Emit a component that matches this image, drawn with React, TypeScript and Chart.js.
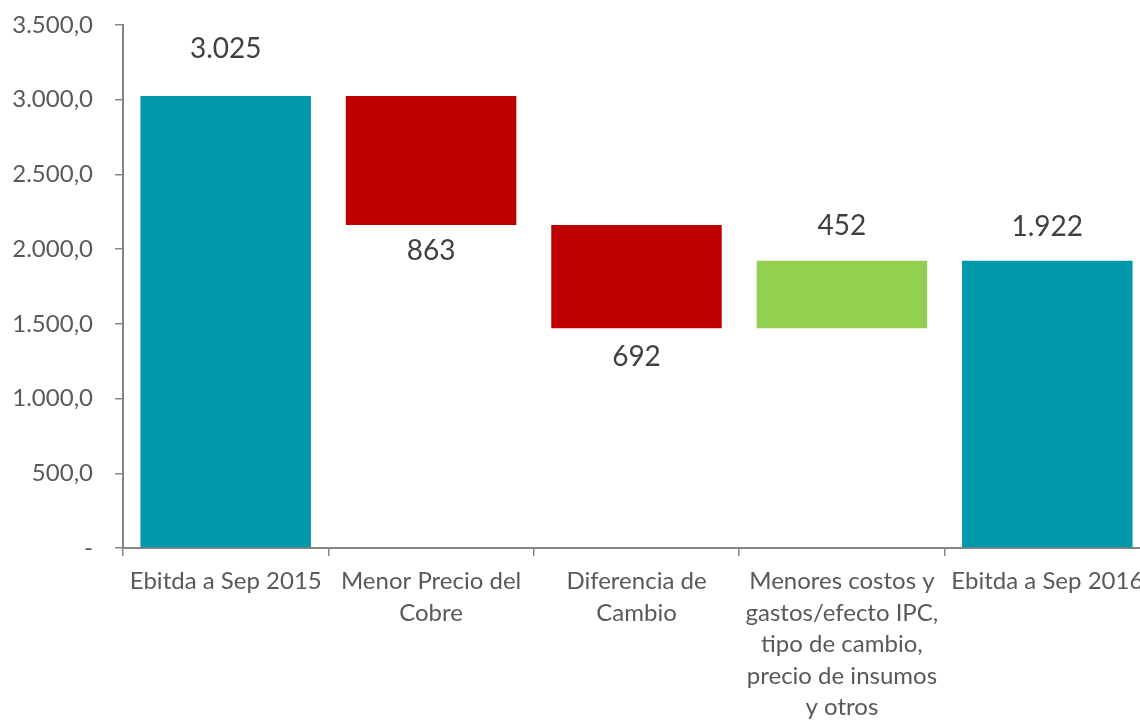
import React, { useEffect, useRef } from "react";
import { Chart, registerables } from "chart.js";

Chart.register(...registerables);

const categories: string[][] = [
  ["Ebitda a Sep 2015"],
  ["Menor Precio del", "Cobre"],
  ["Diferencia de", "Cambio"],
  ["Menores costos y", "gastos/efecto IPC,", "tipo de cambio,", "precio de insumos", "y otros"],
  ["Ebitda a Sep 2016"],
];
const changes: number[] = [3025, -863, -692, 452, 1922];
const kinds: string[] = ["total", "delta", "delta", "delta", "total"];
const yTicks: number[] = [0, 500, 1000, 1500, 2000, 2500, 3000, 3500];

const TEAL = "#0298AB";
const RED = "#C00000";
const GREEN = "#92D050";
const FONT = "Lato, 'Open Sans', sans-serif";

function fmtThousands(v: number): string {
  return Math.round(v).toString().replace(/\B(?=(\d{3})+(?!\d))/g, ".");
}
function fmtAxis(v: number): string {
  if (v === 0) return "-";
  return fmtThousands(v) + ",0";
}

export default function App() {
  const ref = useRef<HTMLCanvasElement | null>(null);
  useEffect(() => {
    if (!ref.current) return;
    let running = 0;
    const ranges: [number, number][] = [];
    const colors: string[] = [];
    changes.forEach((c, i) => {
      if (kinds[i] === "total") {
        ranges.push([0, c]);
        running = c;
        colors.push(TEAL);
      } else {
        const next = running + c;
        ranges.push([running, next]);
        colors.push(c < 0 ? RED : GREEN);
        running = next;
      }
    });
    const labelOffsets = [47, 26, 29, 35, 34];

    const labelPlugin = {
      id: "wfLabels",
      afterDatasetsDraw(chart: any) {
        const ctx = chart.ctx;
        const meta = chart.getDatasetMeta(0);
        ctx.save();
        ctx.font = `28px ${FONT}`;
        ctx.fillStyle = "#404040";
        ctx.textAlign = "center";
        ctx.textBaseline = "middle";
        meta.data.forEach((bar: any, i: number) => {
          const top = Math.min(bar.y, bar.base);
          const bottom = Math.max(bar.y, bar.base);
          const txt = fmtThousands(Math.abs(changes[i]));
          const y = changes[i] < 0 ? bottom + labelOffsets[i] : top - labelOffsets[i];
          ctx.fillText(txt, bar.x, y);
        });
        ctx.restore();
      },
    };

    const chart = new Chart(ref.current, {
      type: "bar",
      data: {
        labels: categories,
        datasets: [
          {
            data: ranges as any,
            backgroundColor: colors,
            borderWidth: 0,
            barPercentage: 0.83,
            categoryPercentage: 1,
          },
        ],
      },
      options: {
        responsive: false,
        animation: false,
        layout: { padding: { top: 25, right: 10, left: 0, bottom: 0 } },
        plugins: { legend: { display: false }, tooltip: { enabled: false } },
        scales: {
          x: {
            grid: {
              offset: true,
              drawOnChartArea: false,
              tickLength: 8,
              color: "#868686",
              lineWidth: 1.5,
            },
            border: { color: "#868686", width: 2 },
            ticks: {
              color: "#595959",
              font: { family: FONT, size: 24, lineHeight: 1.31 },
              padding: 10,
              maxRotation: 0,
              autoSkip: false,
            },
            afterFit(scale: any) {
              scale.height = 176;
              scale.paddingLeft = 0;
              scale.paddingRight = 0;
            },
          },
          y: {
            min: 0,
            max: 3500,
            afterBuildTicks(scale: any) {
              scale.ticks = yTicks.map((v) => ({ value: v }));
            },
            grid: {
              drawOnChartArea: false,
              tickLength: 8,
              color: "#868686",
              lineWidth: 1.5,
            },
            border: { color: "#868686", width: 2 },
            ticks: {
              color: "#595959",
              font: { family: FONT, size: 24 },
              padding: 22,
              callback: (v: any) => fmtAxis(Number(v)),
            },
            afterFit(scale: any) {
              scale.width = 123;
              scale.paddingTop = 0;
              scale.paddingBottom = 0;
            },
          },
        },
      },
      plugins: [labelPlugin],
    });
    return () => chart.destroy();
  }, []);

  return (
    <div
      style={{
        position: "fixed",
        left: 0,
        top: 0,
        width: 1140,
        height: 724,
        overflow: "hidden",
        background: "#fff",
      }}
    >
      <canvas ref={ref} width={1160} height={724} style={{ display: "block" }} />
    </div>
  );
}
